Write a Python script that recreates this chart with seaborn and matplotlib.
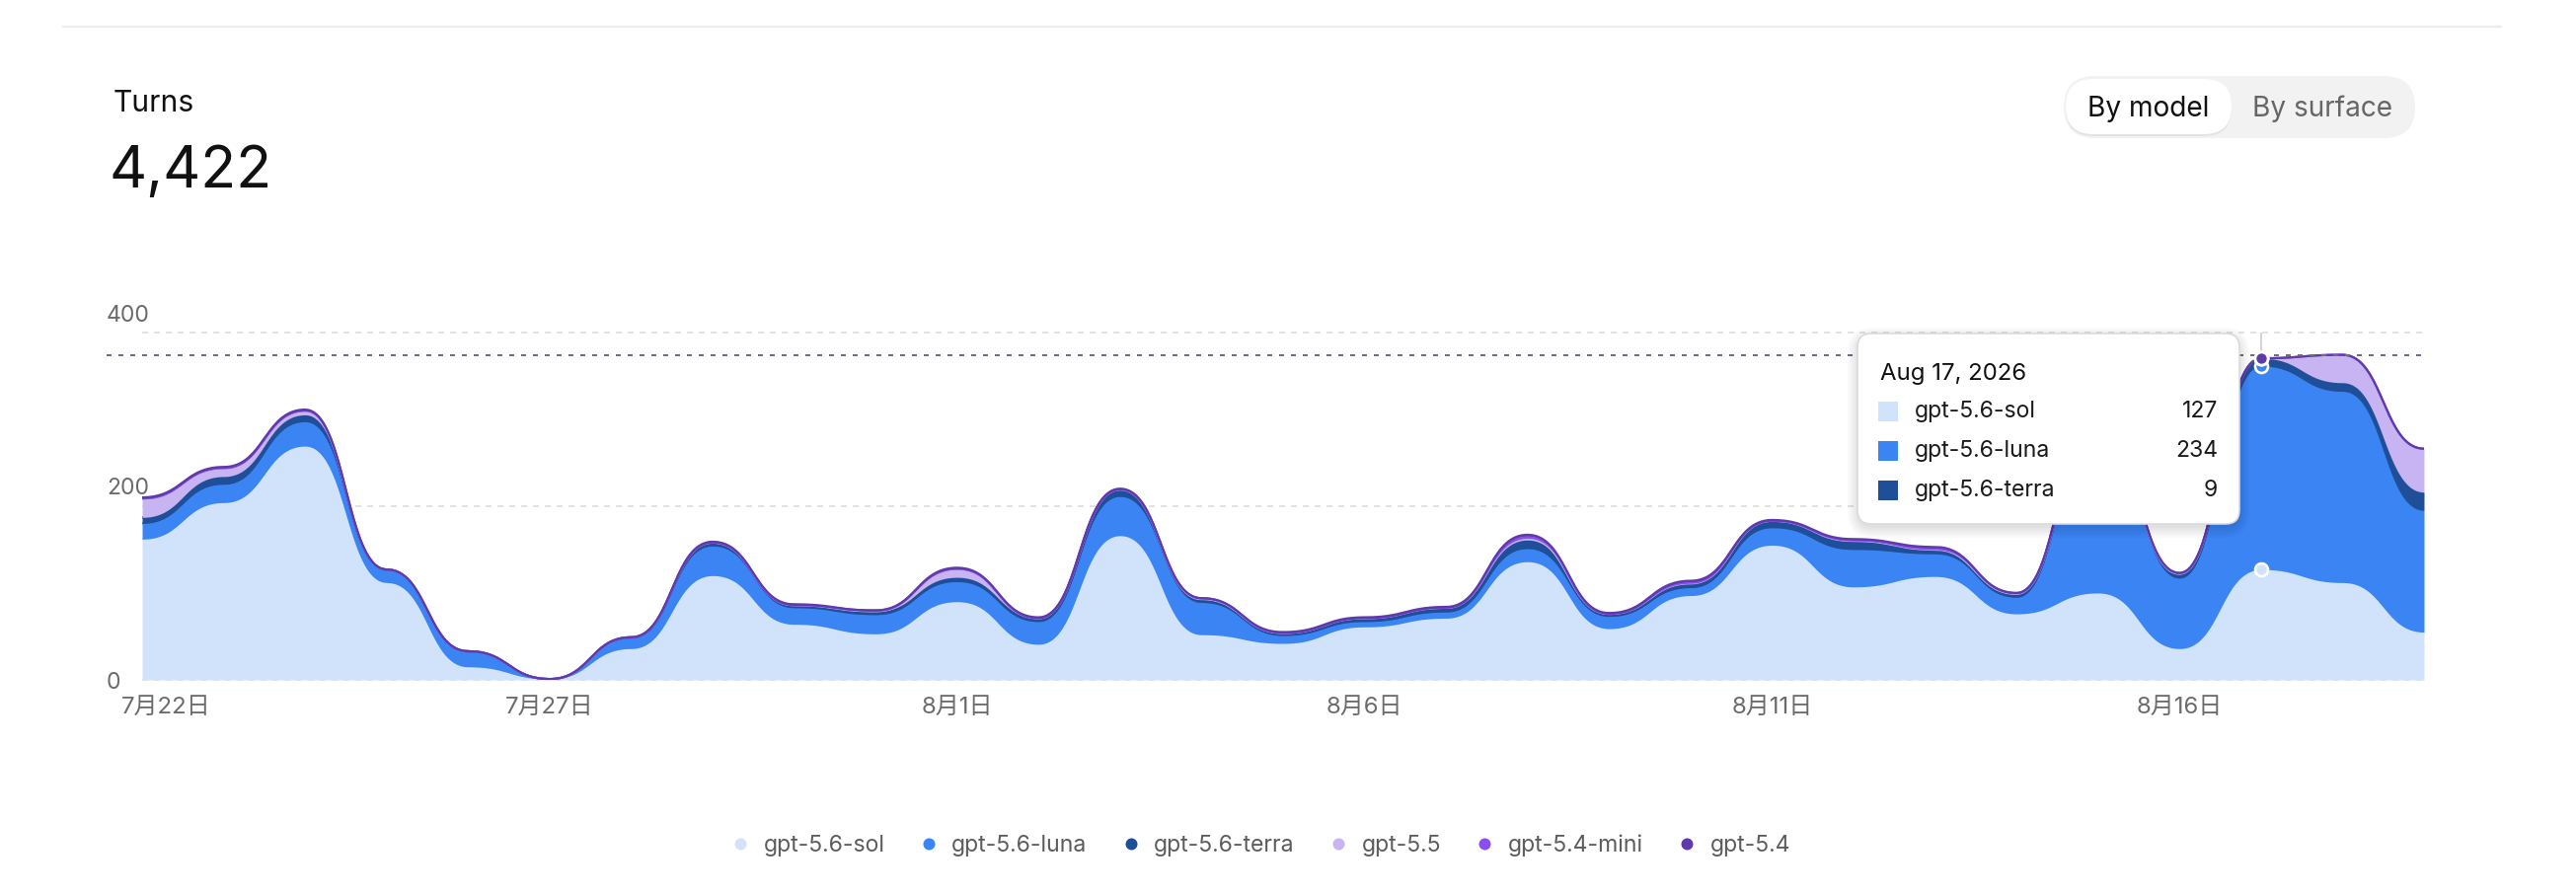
import numpy as np
import pandas as pd
import matplotlib
matplotlib.use("Agg")
import matplotlib.pyplot as plt
import seaborn as sns
from matplotlib.lines import Line2D
from matplotlib.patches import FancyBboxPatch
from matplotlib.transforms import ScaledTranslation

# ---------------------------------------------------------------------------
# data: daily turns per model, Jul 22 - Aug 19
# ---------------------------------------------------------------------------
series_names = ["gpt-5.6-sol", "gpt-5.6-luna", "gpt-5.6-terra", "gpt-5.5", "gpt-5.4-mini", "gpt-5.4"]
series_colors = ["#d0e3fb", "#3b84f4", "#1f4f98", "#c9b4f3", "#8a4eed", "#5e3aaa"]

sol = [162, 204, 269, 112, 15, 1, 36, 120, 64, 53, 90, 41, 166, 52, 42,
       61, 71, 136, 59, 97, 155, 107, 119, 76, 100, 36, 127, 112, 55]
luna = [18, 21, 28, 14, 17, 0, 12, 34, 19, 22, 23, 26, 45, 37, 9,
        6, 7, 15, 14, 9, 20, 43, 26, 19, 187, 81, 234, 220, 140]
terra = [7, 9, 8, 1, 1, 0, 1, 4, 3, 4, 5, 4, 8, 4, 3,
         4, 5, 10, 3, 5, 8, 10, 5, 4, 6, 5, 9, 10, 21]
gpt55 = [21, 9, 4, 0, 0, 0, 0, 0, 0, 0, 9, 0, 0, 0, 0,
         0, 0, 2, 0, 0, 0, 0, 0, 0, 0, 0, 0, 32, 50]
gpt54_mini = [1, 1, 1, 0, 0, 0, 0, 0, 0, 1, 1, 0, 0, 1, 0,
              0, 0, 3, 0, 2, 0, 1, 2, 1, 1, 1, 0, 0, 0]
gpt54 = [1, 1, 1, 0, 0, 0, 0, 1, 1, 0, 1, 1, 1, 0, 1,
         1, 1, 1, 1, 1, 1, 1, 1, 0, 1, 0, 0, 0, 0]

dates = pd.date_range("2026-07-22", "2026-08-19", freq="D")
tick_days = [0, 5, 10, 15, 20, 25]
tick_labels = ["7月22日", "7月27日", "8月1日", "8月6日", "8月11日", "8月16日"]
y_ticks = [0, 200, 400]
hover_day = 26
hover_title = "Aug 17, 2026"
metric_name = "Turns"
metric_total = "4,422"

W, H = 2610, 906
PT = 0.72  # px -> pt at dpi 100


def bump_curve(x, y, steps=40):
    # d3 curveBumpX: cubic bezier per segment, flat tangent at every point
    x = np.asarray(x, float)
    y = np.asarray(y, float)
    t = np.linspace(0, 1, steps, endpoint=False)
    xs, ys = [], []
    for i in range(len(x) - 1):
        h = x[i + 1] - x[i]
        xs.append(x[i] + h * (1.5 * t - 1.5 * t**2 + t**3))
        ys.append(y[i] + (y[i + 1] - y[i]) * (3 * t**2 - 2 * t**3))
    xs.append([x[-1]])
    ys.append([y[-1]])
    return np.concatenate(xs), np.concatenate(ys)


sns.set_theme(style="white")
plt.rcParams["font.family"] = ["Inter", "Noto Sans CJK SC", "DejaVu Sans"]

fig = plt.figure(figsize=(W / 100, H / 100), dpi=100)
fig.patch.set_facecolor("white")

# plot area in pixel terms
left_px, right_px, zero_px, top_px = 144, 2456, 689, 336.7
ax = fig.add_axes([left_px / W, (H - zero_px) / H, (right_px - left_px) / W, (zero_px - top_px) / H])
ax.set_facecolor("none")
for sp in ax.spines.values():
    sp.set_visible(False)

days = np.arange(len(dates))
values = np.array([sol, luna, terra, gpt55, gpt54_mini, gpt54], dtype=float)
cum = np.cumsum(values, axis=0)
total = cum[-1]

# grid
for v in y_ticks:
    ax.axhline(v, color="#e2e2e2", lw=2 * PT, ls=(0, (3, 3)), zorder=0.2, clip_on=False)

# hover cursor
ax.axvline(hover_day, color="#d4d4d4", lw=2 * PT, zorder=0.5)

# stacked smooth areas
prev_y = None
for i, (name, col) in enumerate(zip(series_names, series_colors)):
    xs, top = bump_curve(days, cum[i])
    base = np.zeros_like(top) if prev_y is None else prev_y
    ax.fill_between(xs, base, top, color=col, lw=0, zorder=2 + i * 0.1)
    sns.lineplot(x=xs, y=top, color=col, lw=2.2 * PT, ax=ax, zorder=2.05 + i * 0.1,
                 legend=False, sort=False, estimator=None)
    prev_y = top

# peak reference line
ax.axhline(total.max(), xmin=(108 - left_px) / (right_px - left_px), xmax=1,
           color="#6f6b80", lw=2 * PT, ls=(0, (2.5, 3.5)), zorder=4, clip_on=False)

# hover dots
for i, col in enumerate(series_colors):
    ax.plot(hover_day, cum[i][hover_day], "o", ms=13 * PT, mfc=col, mec="white",
            mew=2.6 * PT, zorder=6 + i * 0.1, clip_on=False)

ax.set_xlim(days[0], days[-1])
ax.set_ylim(0, 400)
ax.set_xlabel("")
ax.set_ylabel("")

ax.set_xticks(tick_days)
ax.set_xticklabels(tick_labels, fontsize=24 * PT, color="#6b6b6b")
ax.tick_params(axis="x", length=0, pad=27.7 * PT)
for k, lab in enumerate(ax.get_xticklabels()):
    lab.set_verticalalignment("center")
    if k == 0:
        lab.set_transform(lab.get_transform() + ScaledTranslation(24.5 / 100, 0, fig.dpi_scale_trans))

ax.set_yticks(y_ticks)
ax.set_yticklabels([str(v) for v in y_ticks], fontsize=23 * PT, color="#6b6b6b")
ax.tick_params(axis="y", length=0, pad=36 * PT)
y_label_shift = {0: -1, 200: 20, 400: 19}
for v, lab in zip(y_ticks, ax.get_yticklabels()):
    lab.set_horizontalalignment("left")
    lab.set_transform(lab.get_transform() + ScaledTranslation(0, y_label_shift[v] / 100, fig.dpi_scale_trans))

# legend
handles = [Line2D([], [], marker="o", ls="", ms=12 * PT, mfc=c, mec=c, mew=0) for c in series_colors]
leg = fig.legend(handles, series_names, loc="center", bbox_to_anchor=(1279 / W, 1 - 857 / H),
                 ncol=6, frameon=False, fontsize=23 * PT, handlelength=0.55,
                 handletextpad=0.75, columnspacing=1.65, borderpad=0)
for t in leg.get_texts():
    t.set_color("#5c5c5c")

# overlay in pixel coords for header, toggle and tooltip
ov = fig.add_axes([0, 0, 1, 1], zorder=10)
ov.set_xlim(0, W)
ov.set_ylim(H, 0)
ov.axis("off")
ov.patch.set_alpha(0)

ov.plot([64, 2534], [27, 27], color="#ececec", lw=2.4 * PT)
ov.text(115, 105, metric_name, fontsize=30 * PT, color="#111111", va="center", ha="left")
ov.text(111, 175, metric_total, fontsize=59 * PT, color="#111111", va="center", ha="left")

# toggle
ov.add_patch(FancyBboxPatch((2091, 77), 356, 63, boxstyle="round,pad=0,rounding_size=31.5",
                            fc="#f2f2f2", ec="none"))
ov.add_patch(FancyBboxPatch((2093, 82), 168, 56, boxstyle="round,pad=0,rounding_size=28",
                            fc="#000000", ec="none", alpha=0.06))
ov.add_patch(FancyBboxPatch((2093, 80), 168, 56, boxstyle="round,pad=0,rounding_size=28",
                            fc="white", ec="none"))
ov.text(2177, 110, "By model", fontsize=28 * PT, color="#111111", va="center", ha="center")
ov.text(2353, 110, "By surface", fontsize=28 * PT, color="#666666", va="center", ha="center")

# tooltip
tx0, ty0, tw, th = 1882, 338, 387, 193
for k in range(6):
    g = 2 + k * 2
    ov.add_patch(FancyBboxPatch((tx0 - g + 2, ty0 - g + 6), tw + 2 * g - 4, th + 2 * g - 4,
                                boxstyle=f"round,pad=0,rounding_size={14 + g}",
                                fc="#000000", ec="none", alpha=0.018))
ov.add_patch(FancyBboxPatch((tx0, ty0), tw, th, boxstyle="round,pad=0,rounding_size=14",
                            fc="white", ec="#dadada", lw=1.6 * PT))
ov.text(1905, 379, hover_title, fontsize=24 * PT, color="#111111", va="center", ha="left")
row_y = 417
for i, (name, col) in enumerate(zip(series_names, series_colors)):
    val = int(values[i][hover_day])
    if val == 0:
        continue
    ov.add_patch(plt.Rectangle((1903, row_y - 10), 20, 20, fc=col, ec="none"))
    ov.text(1940, row_y, name, fontsize=23 * PT, color="#1a1a1a", va="center", ha="left")
    ov.text(2247, row_y, str(val), fontsize=23 * PT, color="#1a1a1a", va="center", ha="right")
    row_y += 40

fig.savefig("out.png", dpi=100, facecolor="white")
